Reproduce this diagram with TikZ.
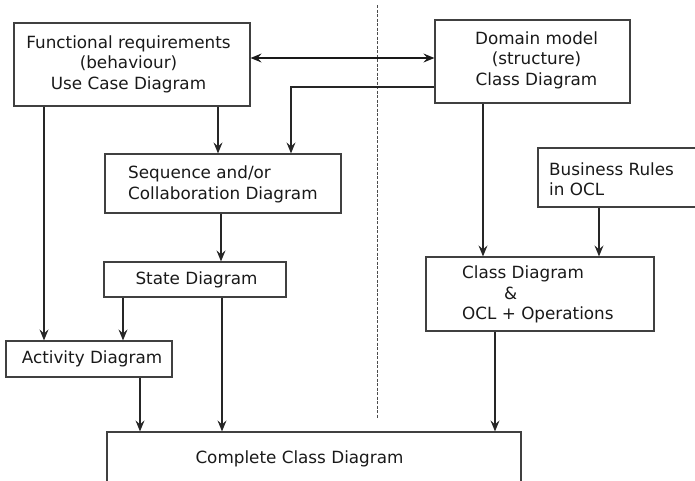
\documentclass[tikz,border=0pt]{standalone}
\usepackage{fontspec}
\setmainfont{DejaVu Sans}
\usetikzlibrary{arrows.meta}
\begin{document}
\begin{tikzpicture}[x=1pt,y=-1pt,
  box/.style={draw=black!75, line width=1.2pt, rectangle, inner sep=0pt},
  txt/.style={inner sep=0pt, font=\fontsize{16.8}{20.5}\selectfont, text=black!90},
  tip/.style={Stealth[length=11pt,width=9pt,inset=4pt]},
  arr/.style={draw=black!85, line width=1.2pt, -{Stealth[length=11pt,width=9pt,inset=4pt]}},
  darr/.style={draw=black!90, line width=1.2pt, {Stealth[length=11pt,width=9pt,inset=4pt]}-{Stealth[length=11pt,width=9pt,inset=4pt]}}
]
\useasboundingbox (0,0) rectangle (695,480);
% boxes
\node[box, minimum width=236pt, minimum height=83pt] (fr) at (132,64.5) {};
\node[box, minimum width=195pt, minimum height=83pt] (dm) at (532.5,61.5) {};
\node[box, minimum width=236pt, minimum height=59pt] (seq) at (223,183.5) {};
\node[box, minimum width=182pt, minimum height=35pt] (st) at (195,279.5) {};
\node[box, minimum width=166pt, minimum height=36pt] (act) at (89,359) {};
\node[box, minimum width=158pt, minimum height=59pt] (br) at (617,177.5) {};
\node[box, minimum width=228pt, minimum height=74pt] (cd) at (540,294) {};
\node[box, minimum width=414pt, minimum height=60pt] (cc) at (314,462) {};
% texts
\node[txt, align=center] (frt) at (128.5,64) {Functional requirements\\(behaviour)\\Use Case Diagram};
\node[txt, align=center] (dmt) at (536.5,60) {Domain model\\(structure)\\Class Diagram};
\node[txt, align=left, anchor=west] (seqt) at (128,184.5) {Sequence and/or\\Collaboration Diagram};
\node[txt] (stt) at (196.5,280) {State Diagram};
\node[txt] (actt) at (92,359) {Activity Diagram};
\node[txt, align=left, anchor=west] (brt) at (549,179) {Business Rules\\in OCL};
\node[txt, align=left, anchor=west] (cdt) at (462,294.5) {Class Diagram\\\hspace*{42pt}\&\\OCL + Operations};
\node[txt] (cct) at (299.5,459) {Complete Class Diagram};
% helper coordinates
\coordinate (x44) at (44,0);
\coordinate (x123) at (123,0);
\coordinate (x140) at (140,0);
\coordinate (x218) at (218,0);
\coordinate (x221) at (221,0);
\coordinate (x222) at (222,0);
\coordinate (x291) at (291,0);
\coordinate (x483) at (483,0);
\coordinate (x495) at (495,0);
\coordinate (x599) at (599,0);
\coordinate (y58) at (0,58);
\coordinate (y87) at (0,87);
\coordinate (dtop) at (377,5);
\coordinate (dbot) at (377,418);
% dashed separator
\draw[black!70, line width=1pt, dash pattern=on 3pt off 1.5pt] (dtop) -- (dbot);
% connectors
\draw[darr] (fr.east |- y58) -- (dm.west |- y58);
\draw[arr] (dm.west |- y87) -| (x291 |- seq.north);
\draw[arr] (x218 |- fr.south) -- (x218 |- seq.north);
\draw[arr] (x44 |- fr.south) -- (x44 |- act.north);
\draw[arr] (x221 |- seq.south) -- (x221 |- st.north);
\draw[arr] (x123 |- st.south) -- (x123 |- act.north);
\draw[arr] (x222 |- st.south) -- (x222 |- cc.north);
\draw[arr] (x140 |- act.south) -- (x140 |- cc.north);
\draw[arr] (x483 |- dm.south) -- (x483 |- cd.north);
\draw[arr] (x599 |- br.south) -- (x599 |- cd.north);
\draw[arr] (x495 |- cd.south) -- (x495 |- cc.north);
\end{tikzpicture}
\end{document}
